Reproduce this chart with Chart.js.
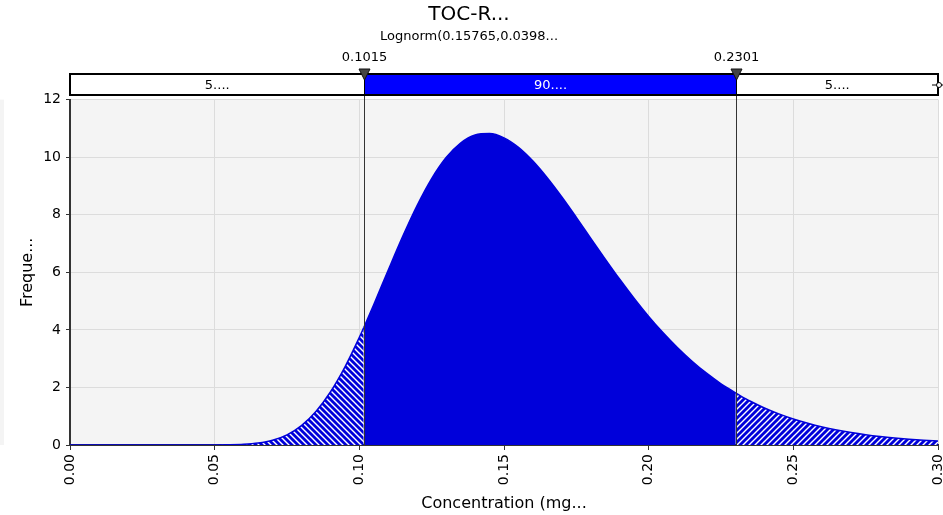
<!DOCTYPE html>
<html>
<head>
<meta charset="utf-8">
<script src="https://cdn.jsdelivr.net/npm/chart.js@4.4.1/dist/chart.umd.min.js"></script>
<style>
  html, body { margin: 0; padding: 0; background: #fff; }
  #wrap { position: relative; width: 943px; height: 515px; }
</style>
</head>
<body>
<div id="wrap"><canvas id="densityChart" width="943" height="515"></canvas></div>
<script>
const chartTitle = "TOC-R...";
const chartSubtitle = "Lognorm(0.15765,0.0398...";
const yAxisTitle = "Freque...";
const xAxisTitle = "Concentration (mg...";

// marker positions and the band labels above the plot
const lowerMarker = 0.1015;
const upperMarker = 0.2301;
const bandLabels = ["5....", "90....", "5...."];

// density curve
const concentration = [
  0, 0.03, 0.04, 0.05, 0.055, 0.06, 0.065, 0.07, 0.075, 0.08, 0.085, 0.09, 0.095, 0.10, 0.1015,
  0.105, 0.11, 0.115, 0.12, 0.125, 0.13, 0.135, 0.14, 0.145, 0.15, 0.155, 0.16, 0.165, 0.17,
  0.175, 0.18, 0.185, 0.19, 0.195, 0.20, 0.205, 0.21, 0.215, 0.22, 0.225, 0.23, 0.2301,
  0.235, 0.24, 0.245, 0.25, 0.255, 0.26, 0.265, 0.27, 0.275, 0.28, 0.285, 0.29, 0.295, 0.30
];
const frequency = [
  0, 0, 0.0001, 0.001, 0.006, 0.023, 0.067, 0.165, 0.354, 0.675, 1.165, 1.842, 2.708, 3.739, 4.07,
  4.883, 6.077, 7.247, 8.326, 9.255, 9.985, 10.49, 10.77, 10.82, 10.67, 10.34, 9.862, 9.276, 8.615,
  7.908, 7.181, 6.459, 5.758, 5.093, 4.469, 3.897, 3.377, 2.910, 2.494, 2.128, 1.807, 1.80,
  1.528, 1.287, 1.081, 0.905, 0.756, 0.629, 0.523, 0.433, 0.358, 0.296, 0.244, 0.200, 0.165, 0.135
];

const xTickValues = [0, 0.05, 0.10, 0.15, 0.20, 0.25, 0.30];
const yTickValues = [0, 2, 4, 6, 8, 10, 12];

const BLUE = "rgb(0,0,218)";
const FONT = "'DejaVu Sans', Verdana, sans-serif";

function stripes(dir) {
  const s = 6;
  const c = document.createElement("canvas");
  c.width = s; c.height = s;
  const g = c.getContext("2d");
  g.fillStyle = BLUE;
  g.fillRect(0, 0, s, s);
  g.strokeStyle = "#fff";
  g.lineWidth = 1.4;
  g.beginPath();
  if (dir === "back") {
    g.moveTo(-1, -1); g.lineTo(s + 1, s + 1);
    g.moveTo(-1, s - 1); g.lineTo(1, s + 1);
    g.moveTo(s - 1, -1); g.lineTo(s + 1, 1);
  } else {
    g.moveTo(-1, s + 1); g.lineTo(s + 1, -1);
    g.moveTo(-1, 1); g.lineTo(1, -1);
    g.moveTo(s - 1, s + 1); g.lineTo(s + 1, s - 1);
  }
  g.stroke();
  return g.createPattern(c, "repeat");
}

const points = concentration.map((x, i) => ({ x, y: frequency[i] }));
const leftTail = points.filter(p => p.x <= lowerMarker);
const middle = points.filter(p => p.x >= lowerMarker && p.x <= upperMarker);
const rightTail = points.filter(p => p.x >= upperMarker);

function areaSet(data, bg) {
  return {
    data,
    fill: "origin",
    backgroundColor: bg,
    borderColor: BLUE,
    borderWidth: 1.5,
    pointRadius: 0,
    cubicInterpolationMode: "monotone",
  };
}

const backdrop = {
  id: "backdrop",
  beforeDraw(chart) {
    const { ctx, chartArea: a } = chart;
    ctx.save();
    ctx.fillStyle = "#f4f4f4";
    ctx.fillRect(a.left, a.top, a.right - a.left, a.bottom - a.top);
    // sliver of neighbouring chart on the left edge
    ctx.fillRect(0, a.top, 4, a.bottom - a.top);
    ctx.restore();
  },
};

const markerBand = {
  id: "markerBand",
  afterDraw(chart) {
    const { ctx, chartArea: a } = chart;
    const xs = chart.scales.x;
    const lo = Math.round(xs.getPixelForValue(lowerMarker)) + 0.5;
    const hi = Math.round(xs.getPixelForValue(upperMarker)) + 0.5;
    const top = 74, bot = 95;
    ctx.save();
    // marker lines through the plot
    ctx.strokeStyle = "#333";
    ctx.lineWidth = 1;
    [lo, hi].forEach(px => {
      ctx.beginPath(); ctx.moveTo(px, top); ctx.lineTo(px, a.bottom); ctx.stroke();
    });
    // band
    ctx.fillStyle = "#fff";
    ctx.fillRect(a.left, top, a.right - a.left, bot - top);
    ctx.fillStyle = "#0000ff";
    ctx.fillRect(lo, top, hi - lo, bot - top);
    ctx.strokeStyle = "#000";
    ctx.lineWidth = 2;
    ctx.strokeRect(a.left, top, a.right - a.left, bot - top);
    ctx.lineWidth = 1;
    ctx.beginPath();
    ctx.moveTo(lo, top); ctx.lineTo(lo, bot);
    ctx.moveTo(hi, top); ctx.lineTo(hi, bot);
    ctx.stroke();
    // right handle
    ctx.beginPath(); ctx.moveTo(a.right - 6, 85); ctx.lineTo(a.right + 5, 85); ctx.stroke();
    ctx.fillStyle = "#fff";
    ctx.beginPath(); ctx.arc(a.right + 1, 85, 2.5, 0, Math.PI * 2); ctx.fill(); ctx.stroke();
    // band texts
    ctx.font = "13px " + FONT;
    ctx.textAlign = "center";
    ctx.textBaseline = "middle";
    const mid = (top + bot) / 2 + 1;
    ctx.fillStyle = "#000";
    ctx.fillText(bandLabels[0], (a.left + lo) / 2, mid);
    ctx.fillStyle = "#fff";
    ctx.fillText(bandLabels[1], (lo + hi) / 2, mid);
    ctx.fillStyle = "#000";
    ctx.fillText(bandLabels[2], (hi + a.right) / 2, mid);
    // triangles and values
    [[lo, lowerMarker], [hi, upperMarker]].forEach(([px, v]) => {
      ctx.fillStyle = "#444";
      ctx.strokeStyle = "#111";
      ctx.beginPath();
      ctx.moveTo(px - 5.5, 69); ctx.lineTo(px + 5.5, 69); ctx.lineTo(px, 80);
      ctx.closePath(); ctx.fill(); ctx.stroke();
      ctx.fillStyle = "#000";
      ctx.font = "13px " + FONT;
      ctx.fillText(v.toFixed(4), px, 58);
    });
    ctx.restore();
  },
};

new Chart(document.getElementById("densityChart"), {
  type: "line",
  data: {
    datasets: [
      areaSet(leftTail, stripes("back")),
      areaSet(middle, BLUE),
      areaSet(rightTail, stripes("fwd")),
    ],
  },
  options: {
    responsive: false,
    animation: false,
    layout: { padding: { top: 0, right: 5, left: 0, bottom: 0 } },
    plugins: {
      legend: { display: false },
      tooltip: { enabled: false },
      title: {
        display: true,
        text: chartTitle,
        color: "#000",
        font: { family: FONT, size: 20, weight: "normal" },
        padding: { top: 3, bottom: 0 },
      },
      subtitle: {
        display: true,
        text: chartSubtitle,
        color: "#000",
        font: { family: FONT, size: 13 },
        padding: { top: 2, bottom: 55 },
      },
    },
    scales: {
      x: {
        type: "linear",
        min: 0,
        max: 0.30,
        afterBuildTicks: (s) => { s.ticks = xTickValues.map(v => ({ value: v })); },
        afterFit: (s) => { s.height = 70; s.paddingLeft = 0; s.paddingRight = 0; },
        ticks: {
          minRotation: 90,
          maxRotation: 90,
          padding: 4,
          color: "#000",
          font: { family: FONT, size: 14 },
          callback: (v) => Number(v).toFixed(2),
        },
        grid: { color: "#dcdcdc", tickLength: 5, tickColor: "#333" },
        border: { color: "#333", width: 2 },
        title: {
          display: true,
          text: xAxisTitle,
          color: "#000",
          font: { family: FONT, size: 16 },
          padding: { top: 0, bottom: 2 },
        },
      },
      y: {
        min: 0,
        max: 12,
        afterBuildTicks: (s) => { s.ticks = yTickValues.map(v => ({ value: v })); },
        afterFit: (s) => { s.width = 70; s.paddingTop = 0; s.paddingBottom = 0; },
        ticks: {
          padding: 5,
          color: "#000",
          font: { family: FONT, size: 14 },
        },
        grid: { color: "#dcdcdc", tickLength: 4, tickColor: "#333" },
        border: { color: "#333", width: 2 },
        title: {
          display: true,
          text: yAxisTitle,
          color: "#000",
          font: { family: FONT, size: 16 },
          padding: { top: 18, bottom: 0 },
        },
      },
    },
  },
  plugins: [backdrop, markerBand],
});
</script>
</body>
</html>
